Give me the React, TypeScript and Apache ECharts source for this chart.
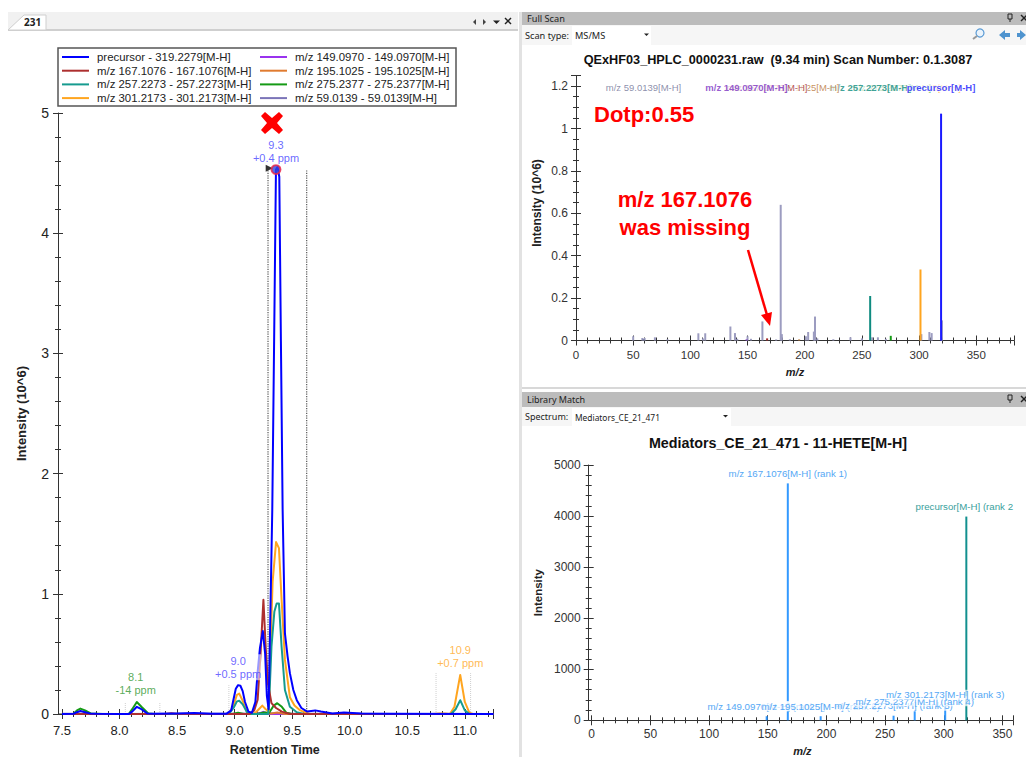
import React, { useEffect, useRef } from "react";
import * as echarts from "echarts";

type Pt = [number, number];

// ---------- Chromatogram ----------
const legendLeftNames = ["precursor - 319.2279[M-H]", "m/z 167.1076 - 167.1076[M-H]", "m/z 257.2273 - 257.2273[M-H]", "m/z 301.2173 - 301.2173[M-H]"];
const legendRightNames = ["m/z 149.0970 - 149.0970[M-H]", "m/z 195.1025 - 195.1025[M-H]", "m/z 275.2377 - 275.2377[M-H]", "m/z 59.0139 - 59.0139[M-H]"];

const precursorTrace: Pt[] = [[7.5,0],[7.6,0.002],[7.63,0.015],[7.66,0.025],[7.7,0.015],[7.74,0.005],[7.8,0.002],[8.0,0],[8.08,0],[8.11,0.02],[8.15,0.06],[8.19,0.04],[8.24,0.005],[8.3,0.003],[8.5,0.005],[8.65,0.008],[8.8,0.003],[8.93,0.003],[8.97,0.03],[8.99,0.12],[9.01,0.21],[9.03,0.24],[9.05,0.235],[9.07,0.19],[9.09,0.1],[9.12,0.02],[9.15,0.01],[9.18,0.1],[9.2,0.35],[9.22,0.55],[9.245,0.69],[9.265,0.5],[9.28,0.15],[9.295,0.04],[9.305,0.55],[9.327,1.7],[9.343,3.1],[9.359,4.53],[9.373,4.55],[9.388,4.47],[9.402,3.1],[9.417,1.7],[9.437,0.67],[9.46,0.48],[9.48,0.34],[9.51,0.2],[9.54,0.115],[9.58,0.05],[9.63,0.02],[9.7,0.03],[9.75,0.02],[9.85,0.005],[9.95,0.012],[10.1,0.005],[10.3,0.002],[11.25,0]];
const trace167: Pt[] = [[7.5,0],[8.4,0],[8.45,0.006],[8.5,0],[9.13,0],[9.17,0.03],[9.2,0.12],[9.225,0.5],[9.25,0.95],[9.27,0.55],[9.29,0.25],[9.32,0.09],[9.36,0.05],[9.41,0.02],[9.48,0],[11.25,0]];
const trace257: Pt[] = [[7.5,0],[8.95,0],[8.99,0.05],[9.02,0.105],[9.04,0.11],[9.07,0.08],[9.11,0.01],[9.15,0],[9.29,0],[9.3,0.1],[9.32,0.56],[9.345,0.85],[9.365,0.92],[9.385,0.92],[9.408,0.56],[9.437,0.2],[9.48,0.06],[9.54,0.015],[9.6,0],[10.88,0],[10.92,0.04],[10.96,0.115],[11.0,0.03],[11.04,0],[11.25,0]];
const trace301: Pt[] = [[7.5,0],[8.95,0],[8.99,0.07],[9.02,0.16],[9.04,0.17],[9.07,0.11],[9.11,0.01],[9.17,0],[9.21,0.04],[9.24,0.07],[9.27,0.04],[9.295,0.02],[9.31,0.5],[9.33,1.1],[9.36,1.43],[9.385,1.38],[9.408,0.95],[9.437,0.45],[9.48,0.14],[9.52,0.07],[9.57,0.03],[9.65,0],[10.72,0],[10.78,0.004],[10.83,0.005],[10.87,0],[10.91,0.06],[10.96,0.325],[11.0,0.1],[11.04,0.01],[11.07,0],[11.25,0]];
const trace149: Pt[] = [[7.5,0],[9.2,0],[9.25,0.018],[9.3,0],[11.25,0]];
const trace195: Pt[] = [[7.5,0],[9.22,0],[9.26,0.01],[9.32,0.004],[9.37,0.012],[9.44,0],[11.25,0]];
const trace275: Pt[] = [[7.5,0],[7.6,0.003],[7.63,0.03],[7.66,0.045],[7.7,0.03],[7.75,0.005],[7.85,0],[8.08,0],[8.11,0.04],[8.15,0.1],[8.19,0.06],[8.25,0.005],[8.3,0],[8.98,0],[9.03,0.01],[9.08,0],[9.2,0],[9.25,0.012],[9.3,0.01],[9.34,0.07],[9.37,0.09],[9.41,0.06],[9.45,0.01],[9.5,0],[11.25,0]];
const trace59: Pt[] = [[7.5,0.002],[8.0,0.001],[8.6,0.002],[9.0,0.002],[9.25,0.006],[9.5,0.002],[10.0,0.002],[10.5,0.001],[11.25,0.001]];

// [retention time, height]
const integrationBounds: Pt[] = [[9.29,4.53],[9.626,4.53]];
const paleBounds: Pt[] = [[8.05,0.1],[8.35,0.1],[8.95,0.24],[10.75,0.34],[11.05,0.34]];
const peakLabels = [
  { rt: 9.359, y: 4.53, text: "9.3\n+0.4 ppm", color: "#4444ff" },
  { rt: 8.14, y: 0.1, text: "8.1\n-14 ppm", color: "#2f962f" },
  { rt: 9.03, y: 0.24, text: "9.0\n+0.5 ppm", color: "#4a44ff" },
  { rt: 10.96, y: 0.325, text: "10.9\n+0.7 ppm", color: "#ffa726" },
];
const apex: Pt = [9.359, 4.53];
const apexFlag: Pt = [9.3, 4.54];

// ---------- Full scan ----------
const fullScanTitle = "QExHF03_HPLC_0000231.raw  (9.34 min) Scan Number: 0.1.3087";
const grayPeaks: Pt[] = [[50,0.02],[58,0.012],[60,0.012],[69,0.015],[80,0.006],[107,0.034],[111,0.01],[113,0.034],[135,0.066],[139,0.035],[141,0.008],[150,0.02],[153,0.008],[163,0.09],[175,0.005],[179,0.64],[180,0.03],[187,0.006],[201,0.02],[203,0.04],[208,0.042],[209,0.113],[211,0.01],[225,0.006],[240,0.015],[250,0.01],[259,0.015],[264,0.015],[271,0.008],[302,0.03],[309,0.04],[311,0.035],[320,0.095]];
const matchedPeaks = [
  { mz: 59.01, i: 0.006, color: "#6f7396", label: "m/z 59.0139[M-H]", bold: false },
  { mz: 149.1, i: 0.005, color: "#7b33c4", label: "m/z 149.0970[M-H]", bold: true },
  { mz: 167.11, i: 0.01, color: "#a52a2a", label: "m/z 167.1076[M-H]", bold: false },
  { mz: 195.1, i: 0.005, color: "#b87333", label: "m/z 195.1025[M-H]", bold: false },
  { mz: 257.23, i: 0.21, color: "#0f8b80", label: "m/z 257.2273[M-H]", bold: true },
  { mz: 275.24, i: 0.022, color: "#159a15", label: "m/z 275.2377[M-H]", bold: false },
  { mz: 301.22, i: 0.335, color: "#ffa51f", label: "m/z 301.2173[M-H]", bold: false },
  { mz: 319.23, i: 1.07, color: "#1a1aff", label: "precursor[M-H]", bold: true },
];
const scanLabelOrder = [6, 5, 4, 3, 2, 1, 0, 7];

// ---------- Library ----------
const libraryTitle = "Mediators_CE_21_471 - 11-HETE[M-H]";
const libraryPeaks = [
  { mz: 149.1, i: 80, label: "m/z 149.0970[M-H] (rank 7)", color: "#3399ff" },
  { mz: 167.11, i: 4640, label: "m/z 167.1076[M-H] (rank 1)", color: "#3399ff" },
  { mz: 195.1, i: 80, label: "m/z 195.1025[M-H] (rank 6)", color: "#3399ff" },
  { mz: 257.23, i: 90, label: "m/z 257.2273[M-H] (rank 5)", color: "#3399ff" },
  { mz: 275.24, i: 176, label: "m/z 275.2377[M-H] (rank 4)", color: "#3399ff" },
  { mz: 301.22, i: 305, label: "m/z 301.2173[M-H] (rank 3)", color: "#3399ff" },
  { mz: 319.23, i: 3990, label: "precursor[M-H] (rank 2", color: "#12908f" },
];

const FONT = "'Liberation Sans', Arial, sans-serif";
const UI = "'Noto Sans', sans-serif";

const traces: { name: string; color: string; data: Pt[] }[] = [
  { name: legendRightNames[3], color: "#7b74b8", data: trace59 },
  { name: legendRightNames[0], color: "#9933ee", data: trace149 },
  { name: legendRightNames[1], color: "#e07b30", data: trace195 },
  { name: legendRightNames[2], color: "#159a15", data: trace275 },
  { name: legendLeftNames[3], color: "#ffa51f", data: trace301 },
  { name: legendLeftNames[2], color: "#169b8f", data: trace257 },
  { name: legendLeftNames[1], color: "#ad2f2f", data: trace167 },
  { name: legendLeftNames[0], color: "#0000ff", data: precursorTrace },
];

function axisPair(kind: "x" | "y", gridIndex: number, base: any, minorLen = 3, tickLen = 5) {
  const position = kind === "x" ? "bottom" : "left";
  const lineStyle = { color: "#333", width: 1 };
  const common = { type: "value", gridIndex, position, splitLine: { show: false }, ...base };
  const minor = { show: true, length: minorLen, splitNumber: base.minorSplit, lineStyle };
  return [
    { ...common, axisLine: { show: true, onZero: false, lineStyle: { color: "#333", width: 1 } }, axisTick: { show: true, length: tickLen, lineStyle }, minorTick: minor },
    { ...common, name: undefined, axisLine: { show: false, onZero: false }, axisLabel: { show: false }, axisTick: { show: true, inside: true, length: tickLen, lineStyle }, minorTick: minor },
  ];
}

function tri(points: number[][], fill = "#222") {
  return { type: "polygon", shape: { points }, style: { fill }, z: 1 };
}
function xIcon(cx: number, cy: number, color = "#222") {
  const s = { stroke: color, lineWidth: 1.4 };
  return [
    { type: "line", shape: { x1: cx - 3, y1: cy - 3, x2: cx + 3, y2: cy + 3 }, style: s, z: 1 },
    { type: "line", shape: { x1: cx - 3, y1: cy + 3, x2: cx + 3, y2: cy - 3 }, style: s, z: 1 },
  ];
}
function pin(cx: number, cy: number) {
  return [
    { type: "rect", shape: { x: cx - 2, y: cy - 4, width: 4, height: 5 }, style: { fill: "#bbb", stroke: "#222", lineWidth: 1 }, z: 1 },
    { type: "line", shape: { x1: cx, y1: cy + 1, x2: cx, y2: cy + 4 }, style: { stroke: "#222", lineWidth: 1 }, z: 1 },
  ];
}
function uiText(text: string, x: number, y: number, fontSize = 9.2, fontWeight = "normal") {
  return { type: "text", x, y, style: { text, fill: "#222", fontSize, fontFamily: UI, fontWeight, textVerticalAlign: "middle" }, z: 2 };
}
function rect(x: number, y: number, width: number, height: number, fill: string) {
  return { type: "rect", shape: { x, y, width, height }, style: { fill }, z: 0 };
}

const chrome: any[] = [
  // left tab strip
  rect(8, 12, 510, 18, "#f1f1f1"),
  rect(8, 29, 510, 2, "#cfcfcf"),
  { type: "polygon", shape: { points: [[8, 30], [24, 15], [46, 15], [46, 30]] }, style: { fill: "#fff", stroke: "#cfcfcf", lineWidth: 1 }, z: 0 },
  uiText("231", 24, 22, 10, "bold"),
  tri([[476, 19], [476, 25], [473, 22]], "#444"),
  tri([[483, 19], [483, 25], [486, 22]], "#444"),
  tri([[493, 20.5], [500, 20.5], [496.5, 24]]),
  ...xIcon(508, 21),
  rect(519, 12, 3, 745, "#e2e2e2"),
  // full scan
  rect(522, 12, 504, 13, "#bcbcbc"),
  rect(522, 25, 504, 20, "#f6f6f6"),
  rect(572, 26, 79, 19, "#ffffff"),
  uiText("Full Scan", 527, 18),
  uiText("Scan type:", 525, 35),
  uiText("MS/MS", 575, 35),
  tri([[644, 33.5], [649, 33.5], [646.5, 36]]),
  ...pin(1010, 18),
  ...xIcon(1024, 18),
  { type: "circle", shape: { cx: 980, cy: 33, r: 4 }, style: { fill: "#eaf3fb", stroke: "#5b9bd5", lineWidth: 1.2 }, z: 1 },
  { type: "line", shape: { x1: 977, y1: 36, x2: 973, y2: 39 }, style: { stroke: "#999", lineWidth: 2 }, z: 1 },
  tri([[999, 35], [1005, 30], [1005, 33], [1010, 33], [1010, 37], [1005, 37], [1005, 40]], "#4f94cf"),
  tri([[1026, 35], [1020, 30], [1020, 33], [1017, 33], [1017, 37], [1020, 37], [1020, 40]], "#4f94cf"),
  // separator
  rect(522, 387, 504, 2, "#d8d8d8"),
  // library
  rect(522, 392, 504, 15, "#bcbcbc"),
  rect(522, 407, 504, 19, "#f6f6f6"),
  rect(572, 408, 159, 18, "#ffffff"),
  uiText("Library Match", 527, 399, 9),
  uiText("Spectrum:", 525, 416, 9),
  uiText("Mediators_CE_21_471", 575, 417, 8.4),
  tri([[723, 415], [728, 415], [725.5, 417.5]]),
  ...pin(1010, 399),
  ...xIcon(1024, 399),
  // legend box
  { type: "rect", shape: { x: 58, y: 48, width: 398, height: 58 }, style: { fill: "#fff", stroke: "#555", lineWidth: 1.5 }, z: 0 },
  // x axis stub to the y axis line
  { type: "line", shape: { x1: 58, y1: 714, x2: 62, y2: 714 }, style: { stroke: "#333", lineWidth: 1 }, z: 3 },
];

const annotations: any[] = [
  // red cross
  { type: "polygon", shape: { points: [[265, 112], [272, 118], [279, 112], [283, 116], [277, 123], [283, 130], [279, 134], [272, 128], [265, 134], [261, 130], [267, 123], [261, 116]] }, style: { fill: "#ff0000" }, z: 100 },
  { type: "text", x: 594, y: 114, style: { text: "Dotp:0.55", fill: "#ff0000", fontFamily: FONT, fontWeight: "bold", fontSize: 22, textVerticalAlign: "middle" }, z: 100 },
  { type: "text", x: 685, y: 213, style: { text: "m/z 167.1076\nwas missing", fill: "#ff0000", fontFamily: FONT, fontWeight: "bold", fontSize: 22, lineHeight: 28, textAlign: "center", textVerticalAlign: "middle" }, z: 100 },
  { type: "line", shape: { x1: 748, y1: 250, x2: 767, y2: 315 }, style: { stroke: "#ff0000", lineWidth: 2.5 }, z: 100 },
  { type: "polygon", shape: { points: [[770, 326], [761, 315], [772, 312]] }, style: { fill: "#ff0000" }, z: 100 },
];

const labelSeries = {
  type: "scatter",
  xAxisIndex: 0,
  yAxisIndex: 0,
  symbolSize: 0,
  silent: true,
  z: 9,
  data: peakLabels.map((p) => ({
    value: [p.rt, p.y],
    label: { show: true, position: "top", distance: 5, formatter: p.text, color: p.color, fontSize: 11, lineHeight: 13, fontFamily: FONT, backgroundColor: "rgba(255,255,255,0.75)" },
  })),
};

const boundSeries = (b: Pt, color: string, width: number) => ({
  type: "line",
  xAxisIndex: 0,
  yAxisIndex: 0,
  symbol: "none",
  silent: true,
  z: 1,
  data: [[b[0], 0], b],
  lineStyle: { color, width, type: "dotted" },
});

const option: any = {
  animation: false,
  backgroundColor: "#ffffff",
  textStyle: { fontFamily: FONT },
  title: [
    { text: fullScanTitle, left: 778, top: 53, textAlign: "center", padding: 0, textStyle: { fontSize: 12.7, fontWeight: "bold", color: "#111", fontFamily: FONT } },
    { text: libraryTitle, left: 778, top: 436, textAlign: "center", padding: 0, textStyle: { fontSize: 14.3, fontWeight: "bold", color: "#111", fontFamily: FONT } },
  ],
  legend: [
    { data: legendLeftNames, left: 62, top: 51, orient: "vertical", itemWidth: 27, itemHeight: 2, itemGap: 1.7, icon: "rect", padding: 0, selectedMode: false, textStyle: { fontSize: 11.4, color: "#222", padding: [0, 0, 0, 3], fontFamily: FONT, lineHeight: 12 } },
    { data: legendRightNames, left: 260, top: 51, orient: "vertical", itemWidth: 27, itemHeight: 2, itemGap: 1.7, icon: "rect", padding: 0, selectedMode: false, textStyle: { fontSize: 11.4, color: "#222", padding: [0, 0, 0, 3], fontFamily: FONT, lineHeight: 12 } },
  ],
  grid: [
    { left: 62, top: 113, width: 431.6, height: 601, outerBoundsMode: "none" },
    { left: 576, top: 75.5, width: 438, height: 265, outerBoundsMode: "none" },
    { left: 591.7, top: 465, width: 421.3, height: 255.3, outerBoundsMode: "none" },
  ],
  xAxis: [
    ...axisPair("x", 0, { min: 7.5, max: 11.25, interval: 0.5, minorSplit: 5, name: "Retention Time", nameLocation: "middle", nameGap: 29, nameTextStyle: { fontSize: 12.5, fontWeight: "bold", color: "#222", padding: [0, 6, 0, 0] }, axisLabel: { fontSize: 13, color: "#222", margin: 10, formatter: (v: number) => v.toFixed(1), showMaxLabel: false } }),
    ...axisPair("x", 1, { min: 0, max: 383, interval: 50, minorSplit: 5, name: "m/z", nameLocation: "middle", nameGap: 26, nameTextStyle: { fontSize: 11, fontWeight: "bold", fontStyle: "italic", color: "#222" }, axisLabel: { fontSize: 11.5, color: "#333", margin: 8, showMaxLabel: false } }),
    ...axisPair("x", 2, { min: 0, max: 359, interval: 50, minorSplit: 5, name: "m/z", nameLocation: "middle", nameGap: 25, nameTextStyle: { fontSize: 11, fontWeight: "bold", fontStyle: "italic", color: "#222" }, axisLabel: { fontSize: 12, color: "#333", margin: 8, showMaxLabel: false } }),
  ],
  yAxis: [
    ...axisPair("y", 0, { min: 0, max: 5, interval: 1, minorSplit: 5, offset: 4, name: "Intensity (10^6)", nameLocation: "middle", nameGap: 30, nameTextStyle: { fontSize: 13, fontWeight: "bold", color: "#222" }, axisLabel: { fontSize: 14, color: "#222", margin: 9 } }),
    ...axisPair("y", 1, { min: 0, max: 1.25, interval: 0.2, minorSplit: 4, name: "Intensity (10^6)", nameLocation: "middle", nameGap: 33, nameTextStyle: { fontSize: 12, fontWeight: "bold", color: "#222", padding: [0, 0, 0, 10] }, axisLabel: { fontSize: 12, color: "#333", margin: 8, showMaxLabel: false, formatter: (v: number) => String(Math.round(v * 10) / 10) } }),
    ...axisPair("y", 2, { min: 0, max: 5000, interval: 1000, minorSplit: 5, offset: 3, name: "Intensity", nameLocation: "middle", nameGap: 45, nameTextStyle: { fontSize: 11.5, fontWeight: "bold", color: "#222" }, axisLabel: { fontSize: 12, color: "#333", margin: 8, formatter: (v: number) => String(v) } }),
  ],
  series: [
    ...integrationBounds.map((b) => boundSeries(b, "#555", 1.2)),
    ...paleBounds.map((b) => boundSeries(b, "#cfcfcf", 1)),
    ...traces.map((t) => ({
      type: "line",
      name: t.name,
      xAxisIndex: 0,
      yAxisIndex: 0,
      symbol: "none",
      smooth: false,
      data: t.data,
      itemStyle: { color: t.color },
      lineStyle: { color: t.color, width: 2, join: "round" },
      z: 3,
    })),
    labelSeries,
    { type: "scatter", xAxisIndex: 0, yAxisIndex: 0, silent: true, z: 8, symbol: "triangle", symbolRotate: -90, symbolSize: 7, itemStyle: { color: "#000" }, data: [apexFlag] },
    { type: "scatter", xAxisIndex: 0, yAxisIndex: 0, silent: true, z: 8, symbolSize: 9, itemStyle: { color: "#3344dd", borderColor: "#ee2244", borderWidth: 2 }, data: [apex] },
    // full scan
    {
      type: "bar",
      xAxisIndex: 2,
      yAxisIndex: 2,
      barWidth: 2,
      silent: true,
      data: [
        ...grayPeaks.map((p) => ({ value: p, itemStyle: { color: "#9c9cc0" } })),
        ...matchedPeaks.map((p) => ({ value: [p.mz, p.i], itemStyle: { color: p.color } })),
      ],
    },
    {
      type: "scatter",
      xAxisIndex: 2,
      yAxisIndex: 2,
      symbolSize: 0,
      silent: true,
      z: 9,
      data: scanLabelOrder.map((idx) => {
        const p = matchedPeaks[idx];
        return {
          value: [p.mz, 1.195],
          label: { show: true, position: "inside", formatter: p.label, color: p.color, fontSize: 9.5, fontFamily: FONT, fontWeight: p.bold ? "bold" : "normal", backgroundColor: "rgba(255,255,255,0.9)" },
        };
      }),
    },
    // library
    {
      type: "bar",
      xAxisIndex: 4,
      yAxisIndex: 4,
      barWidth: 2,
      silent: true,
      data: libraryPeaks.map((p) => ({
        value: [p.mz, p.i],
        itemStyle: { color: p.color },
        label: { show: true, position: "top", distance: 5, offset: p.color === "#3399ff" ? [0, 0] : [-2, 0], formatter: p.label, color: p.color === "#3399ff" ? "#55a8f5" : "#3a9f9d", fontSize: 9.7, fontFamily: FONT, backgroundColor: "rgba(255,255,255,0.7)" },
      })),
    },
  ],
  graphic: { elements: [...chrome, ...annotations] },
};

export default function App() {
  const ref = useRef<HTMLDivElement>(null);
  useEffect(() => {
    const chart = echarts.init(ref.current!, undefined, { renderer: "svg" });
    chart.setOption(option);
    return () => chart.dispose();
  }, []);
  return <div ref={ref} style={{ position: "absolute", left: 0, top: 0, width: 1026, height: 757 }} />;
}
